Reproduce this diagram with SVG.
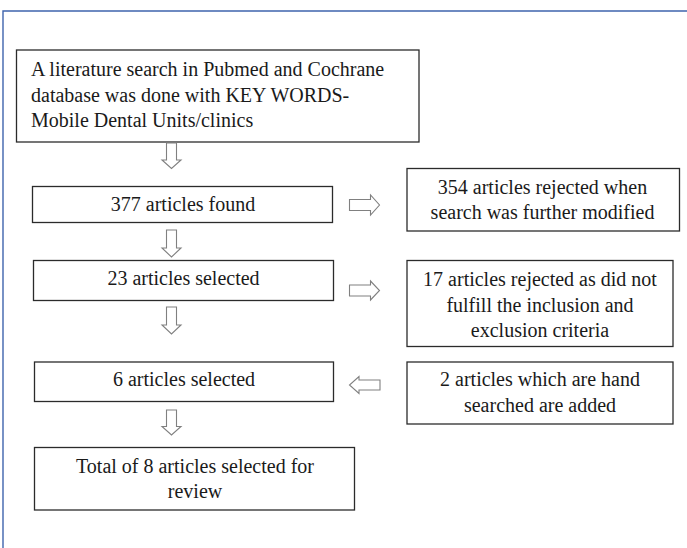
<svg xmlns="http://www.w3.org/2000/svg" width="687" height="548" viewBox="0 0 687 548">
<style>
.box{fill:#fff;stroke:#2b2b2b;stroke-width:1.3}
.t{font-family:"Liberation Serif","Times New Roman",serif;font-size:20px;fill:#1a1a1a}
.c{text-anchor:middle}
.arr{fill:#fff;stroke:#808080;stroke-width:1.1;stroke-linejoin:miter}
.frame{fill:none;stroke:#3f64ad;stroke-width:1.4}
</style>
<rect width="687" height="548" fill="#fff"/>
<path class="frame" d="M3,548 V11 H687"/>
<g id="n1"><rect class="box" x="16.5" y="50" width="402.5" height="92"/>
<text class="t" x="31" y="76">A literature search in Pubmed and Cochrane</text>
<text class="t" x="31" y="101.5">database was done with KEY WORDS-</text>
<text class="t" x="31" y="127">Mobile Dental Units/clinics</text></g>
<g id="n2"><rect class="box" x="32.5" y="186.5" width="300" height="36"/>
<text class="t c" x="183" y="211">377 articles found</text></g>
<g id="n3"><rect class="box" x="33.5" y="260.5" width="300" height="40"/>
<text class="t c" x="183.5" y="285">23 articles selected</text></g>
<g id="n4"><rect class="box" x="34.5" y="362" width="299" height="39.5"/>
<text class="t c" x="184" y="386">6 articles selected</text></g>
<g id="n5"><rect class="box" x="34.5" y="447.5" width="320" height="62.5"/>
<text class="t c" x="195" y="473">Total of 8 articles selected for</text>
<text class="t c" x="195" y="498">review</text></g>
<g id="n6"><rect class="box" x="407" y="168.5" width="272.5" height="62.5"/>
<text class="t c" x="542.5" y="193.5">354 articles rejected when</text>
<text class="t c" x="542.5" y="219">search was further modified</text></g>
<g id="n7"><rect class="box" x="407" y="260.5" width="266" height="86"/>
<text class="t c" x="540" y="286">17 articles rejected as did not</text>
<text class="t c" x="540" y="311.5">fulfill the inclusion and</text>
<text class="t c" x="540" y="337">exclusion criteria</text></g>
<g id="n8"><rect class="box" x="407" y="362" width="266" height="62"/>
<text class="t c" x="540" y="386">2 articles which are hand</text>
<text class="t c" x="540" y="412">searched are added</text></g>
<g id="connectors">
<path class="arr" d="M166.5,143 H176.5 V160 H181 L171.5,168.5 L162,160 H166.5 Z"/>
<path class="arr" d="M166.5,230 H176.5 V248 H181 L171.5,257 L162,248 H166.5 Z"/>
<path class="arr" d="M166.5,307 H176.5 V325 H181 L171.5,334 L162,325 H166.5 Z"/>
<path class="arr" d="M166.5,410 H176.5 V426.5 H181 L171.5,435 L162,426.5 H166.5 Z"/>
<path class="arr" d="M349.5,199.5 H370.5 V195 L379.5,205 L370.5,215 V210.5 H349.5 Z"/>
<path class="arr" d="M349.5,285 H370.5 V281 L379.5,290.5 L370.5,300 V296 H349.5 Z"/>
<path class="arr" d="M380,380 H359 V376.5 L349.5,385 L359,393.5 V390 H380 Z"/>
</g>
</svg>
